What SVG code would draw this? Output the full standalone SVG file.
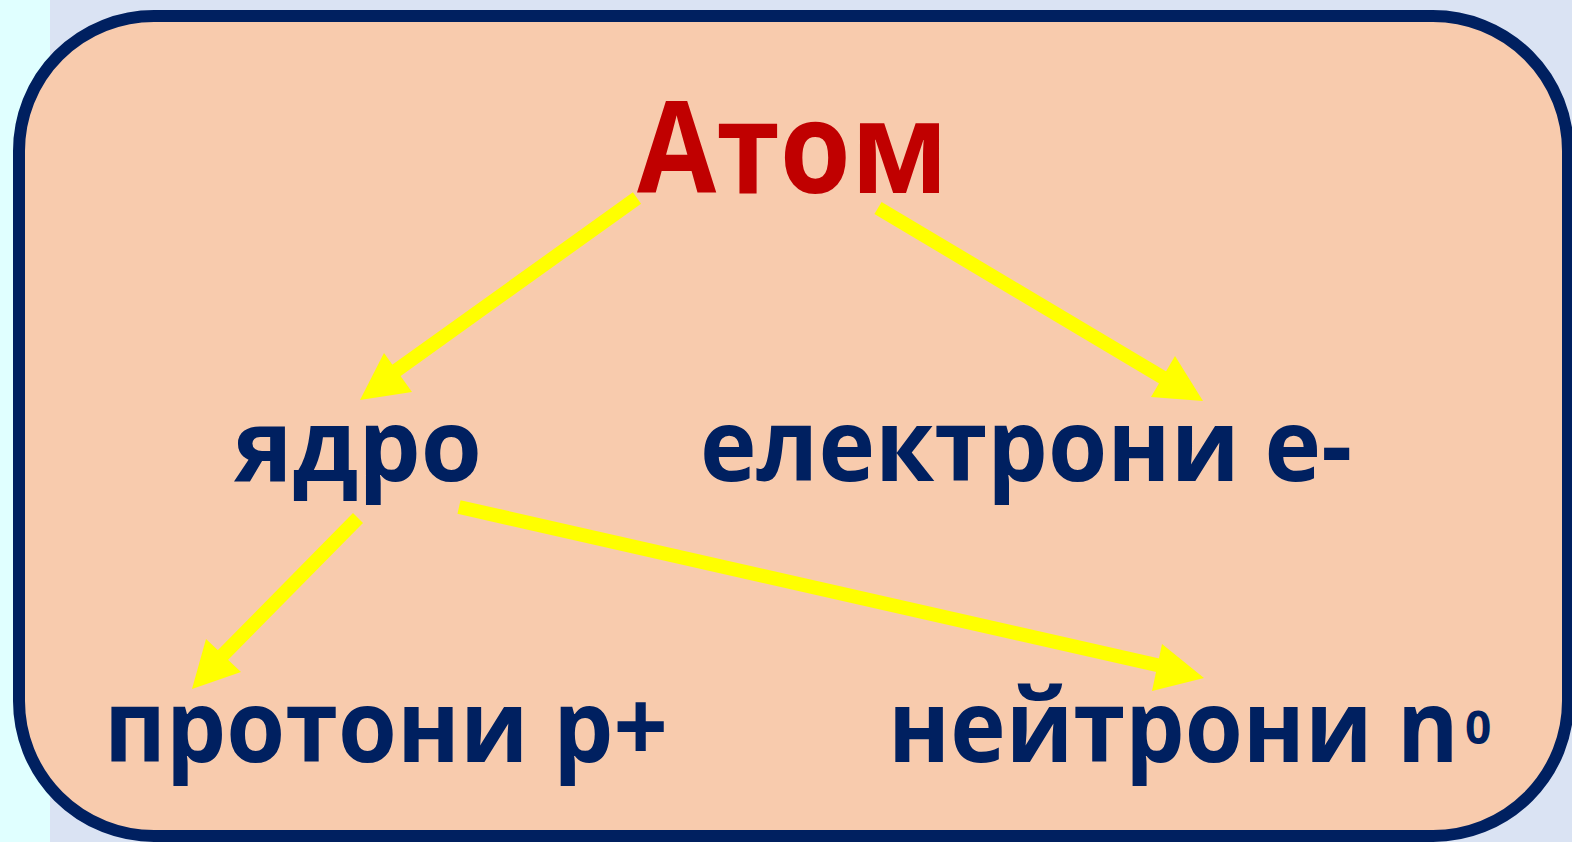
<svg xmlns="http://www.w3.org/2000/svg" width="1572" height="842" viewBox="0 0 1572 842">
<style>
.lbl{font-family:"Open Sans","Noto Sans","DejaVu Sans",sans-serif;font-weight:700;fill:#002060}
.title{font-family:"Open Sans","Noto Sans","DejaVu Sans",sans-serif;font-weight:700;fill:#c00000}
.shaft{stroke:#ffff00;stroke-width:14;fill:none}
.head{fill:#ffff00}
</style>
<rect x="0" y="0" width="1572" height="842" fill="#dae3f3"/>
<rect x="0" y="0" width="50" height="842" fill="#e0ffff"/>
<rect x="19" y="16" width="1549" height="820" rx="135" ry="135" fill="#f8cbad" stroke="#002060" stroke-width="12"/>
<g id="connectors">
<line class="shaft" x1="637" y1="198" x2="390" y2="375"/>
<polygon class="head" points="360,400 384,353 412,392"/>
<line class="shaft" x1="878" y1="208" x2="1172" y2="383"/>
<polygon class="head" points="1203,401 1175,356 1151,397"/>
<line class="shaft" x1="358" y1="518" x2="218" y2="660"/>
<polygon class="head" points="192,689 206,639 241,672"/>
<line class="shaft" x1="459" y1="507" x2="1170" y2="668"/>
<polygon class="head" points="1204,678 1162,644 1152,691"/>
</g>
<g id="atom"><text class="title" x="637" y="193" font-size="127" textLength="311" lengthAdjust="spacingAndGlyphs">Атом</text></g>
<g id="yadro"><text class="lbl" x="234" y="481" font-size="101" textLength="248" lengthAdjust="spacingAndGlyphs">ядро</text></g>
<g id="elektroni"><text class="lbl" x="700" y="481" font-size="101" textLength="652" lengthAdjust="spacingAndGlyphs">електрони е-</text></g>
<g id="protoni"><text class="lbl" x="104" y="762" font-size="101" textLength="564" lengthAdjust="spacingAndGlyphs">протони p+</text></g>
<g id="neytroni"><text class="lbl" transform="translate(888,762) scale(0.93,1)" x="0" y="0" font-size="101">нейтрони n</text><text class="lbl" x="1465" y="744" font-size="46">0</text></g>
</svg>
